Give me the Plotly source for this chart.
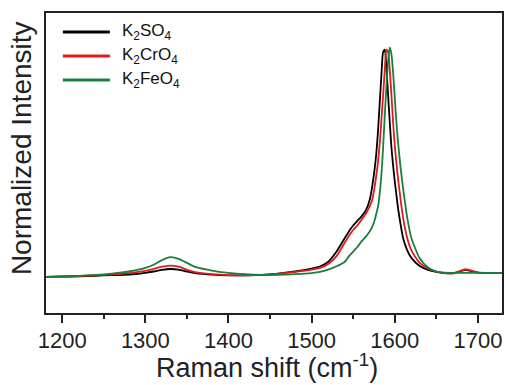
import plotly.graph_objects as go

# ---- data ----
raman_shift = [1180, 1200, 1220, 1240, 1260, 1280, 1300, 1310, 1320, 1330, 1340, 1350, 1360, 1380,
               1400, 1420, 1440, 1460, 1480, 1500, 1510, 1520, 1530, 1540, 1545, 1550, 1555, 1560,
               1565, 1570, 1573, 1576, 1578, 1580, 1582, 1584, 1586, 1588, 1590, 1592, 1594, 1596,
               1598, 1600, 1602, 1604, 1607, 1610, 1615, 1620, 1630, 1640, 1650, 1660, 1670, 1680,
               1685, 1690, 1700, 1710, 1730]

k2so4 = [-0.012, -0.011, -0.009, -0.007, -0.004, -0.002, 0.006, 0.012, 0.019, 0.023, 0.02, 0.012, 0.005, -0.002,
         -0.005, -0.005, -0.003, 0.003, 0.012, 0.025, 0.034, 0.055, 0.1, 0.16, 0.19, 0.215, 0.235, 0.255,
         0.28, 0.33, 0.39, 0.47, 0.54, 0.64, 0.76, 0.88, 0.98, 0.99, 0.91, 0.79, 0.67, 0.56,
         0.48, 0.41, 0.35, 0.29, 0.22, 0.16, 0.105, 0.072, 0.036, 0.019, 0.01, 0.005, 0.004, 0.014,
         0.019, 0.016, 0.007, 0.006, 0.006]

k2cro4 = [-0.012, -0.01, -0.008, -0.005, -0.001, 0.005, 0.015, 0.024, 0.033, 0.038, 0.033, 0.02, 0.009, 0.0,
          -0.004, -0.005, -0.003, 0.002, 0.01, 0.02, 0.028, 0.045, 0.08, 0.14, 0.17, 0.195, 0.215, 0.24,
          0.265, 0.3, 0.33, 0.39, 0.44, 0.5, 0.58, 0.68, 0.79, 0.9, 0.99, 0.98, 0.9, 0.79,
          0.67, 0.57, 0.49, 0.42, 0.33, 0.25, 0.16, 0.105, 0.05, 0.025, 0.012, 0.005, 0.005, 0.016,
          0.022, 0.018, 0.008, 0.006, 0.006]

k2feo4 = [-0.012, -0.01, -0.007, -0.003, 0.003, 0.012, 0.028, 0.042, 0.062, 0.075, 0.068, 0.05, 0.032, 0.016,
          0.006, 0.0, -0.003, -0.003, 0.0, 0.005, 0.01, 0.02, 0.035, 0.055, 0.08, 0.1, 0.12, 0.145,
          0.165, 0.19, 0.21, 0.24, 0.27, 0.3, 0.36, 0.44, 0.56, 0.7, 0.83, 0.94, 1.0, 0.97,
          0.89, 0.78, 0.67, 0.58, 0.47, 0.38, 0.25, 0.16, 0.07, 0.03, 0.012, 0.007, 0.006, 0.006,
          0.006, 0.006, 0.006, 0.006, 0.006]

series_names = ["K<sub>2</sub>SO<sub>4</sub>", "K<sub>2</sub>CrO<sub>4</sub>", "K<sub>2</sub>FeO<sub>4</sub>"]
series_values = [k2so4, k2cro4, k2feo4]
series_colors = ["#000000", "#e31a1c", "#1a7f3c"]

x_ticks = [1200, 1300, 1400, 1500, 1600, 1700]
x_title = "Raman shift (cm<sup>-1</sup>)"
y_title = "Normalized Intensity"

FONT = "Arial, Liberation Sans, sans-serif"

fig = go.Figure()
for name, vals, col in zip(series_names, series_values, series_colors):
    fig.add_trace(go.Scatter(x=raman_shift, y=vals, mode="lines", name=name,
                             line=dict(color=col, width=1.8, shape="spline", smoothing=0.6),
                             showlegend=False))

# custom legend (line sample + label) in the upper-left corner
leg_y = [0.937, 0.857, 0.777]
for name, col, yy in zip(series_names, series_colors, leg_y):
    fig.add_shape(type="line", xref="paper", yref="paper", x0=0.037, x1=0.140, y0=yy, y1=yy,
                  line=dict(color=col, width=3))
    fig.add_annotation(xref="paper", yref="paper", x=0.162, y=yy, text=name, showarrow=False,
                       xanchor="left", yanchor="middle", font=dict(family=FONT, size=17, color="#111"))

# axis titles
fig.add_annotation(xref="paper", yref="paper", x=0.4857, y=-0.112, text=x_title, showarrow=False,
                   xanchor="center", yanchor="top", font=dict(family=FONT, size=27, color="#222"))
fig.add_annotation(xref="paper", yref="paper", x=-0.0537, y=0.548, text=y_title, showarrow=False,
                   textangle=-90, xanchor="center", yanchor="middle",
                   font=dict(family=FONT, size=28, color="#222"))

fig.update_layout(
    width=506, height=385,
    margin=dict(l=46, r=4, t=13, b=72, autoexpand=False),
    paper_bgcolor="white", plot_bgcolor="white",
    font=dict(family=FONT, color="#222"),
)
fig.update_xaxes(
    range=[1180.5, 1729], tickvals=x_ticks, ticks="outside", ticklen=8, tickwidth=1.5, tickcolor="#222",
    minor=dict(dtick=50, tick0=1150, ticks="outside", ticklen=4, tickwidth=1.5, tickcolor="#222", showgrid=False),
    showline=True, linecolor="#222", linewidth=1.5, mirror=True, showgrid=False, zeroline=False,
    tickfont=dict(family=FONT, size=22, color="#222"), ticklabelstandoff=-1,
)
fig.update_yaxes(
    range=[-0.171, 1.152], showticklabels=False, ticks="",
    showline=True, linecolor="#222", linewidth=1.5, mirror=True, showgrid=False, zeroline=False,
)

fig.write_html("out.html", config={"displayModeBar": False},
               post_script="document.body.style.margin='0';document.body.style.overflow='hidden';")
